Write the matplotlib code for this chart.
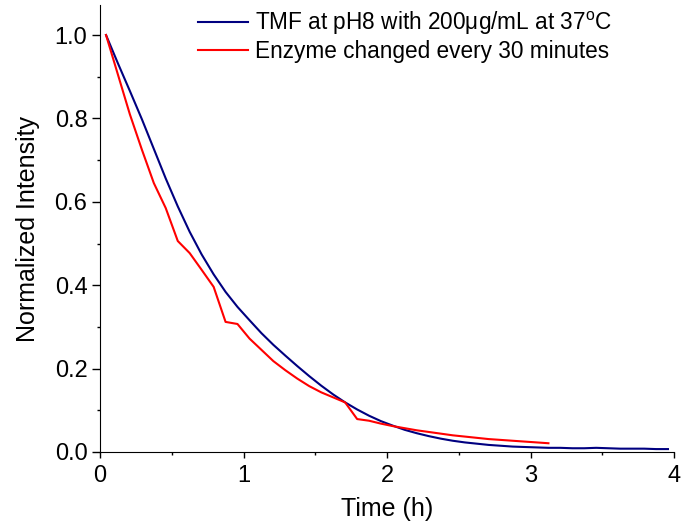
import matplotlib
matplotlib.use("Agg")
from matplotlib import pyplot as plt
from matplotlib.ticker import MultipleLocator, FormatStrFormatter

matplotlib.rcParams.update({'font.family': 'Liberation Sans',
                            'mathtext.fontset': 'custom',
                            'mathtext.rm': 'Liberation Sans',
                            'mathtext.it': 'Liberation Sans:italic',
                            'font.size': 17})

# time points (h), one every 5 minutes
time_red = [0.042, 0.125, 0.208, 0.292, 0.375, 0.458, 0.542, 0.625, 0.708, 0.792,
            0.875, 0.958, 1.042, 1.125, 1.208, 1.292, 1.375, 1.458, 1.542, 1.625,
            1.708, 1.792, 1.875, 1.958, 2.042, 2.125, 2.208, 2.292, 2.375, 2.458,
            2.542, 2.625, 2.708, 2.792, 2.875, 2.958, 3.042, 3.125]
enzyme_changed = [1.000, 0.905, 0.810, 0.725, 0.645, 0.585, 0.506, 0.477, 0.437, 0.396,
                  0.312, 0.307, 0.272, 0.245, 0.218, 0.196, 0.176, 0.158, 0.143, 0.131,
                  0.119, 0.079, 0.075, 0.068, 0.062, 0.057, 0.052, 0.048, 0.044, 0.040,
                  0.037, 0.034, 0.031, 0.029, 0.027, 0.025, 0.023, 0.021]

time_blue = [0.042, 0.125, 0.208, 0.292, 0.375, 0.458, 0.542, 0.625, 0.708, 0.792,
             0.875, 0.958, 1.042, 1.125, 1.208, 1.292, 1.375, 1.458, 1.542, 1.625,
             1.708, 1.792, 1.875, 1.958, 2.042, 2.125, 2.208, 2.292, 2.375, 2.458,
             2.542, 2.625, 2.708, 2.792, 2.875, 2.958, 3.042, 3.125, 3.208, 3.292,
             3.375, 3.458, 3.542, 3.625, 3.708, 3.792, 3.875, 3.958]
tmf_ph8 = [1.000, 0.932, 0.866, 0.798, 0.727, 0.656, 0.589, 0.528, 0.474, 0.426,
           0.384, 0.348, 0.316, 0.285, 0.257, 0.231, 0.206, 0.182, 0.159, 0.138,
           0.119, 0.102, 0.087, 0.074, 0.063, 0.053, 0.045, 0.038, 0.032, 0.027,
           0.023, 0.020, 0.017, 0.015, 0.013, 0.012, 0.011, 0.010, 0.010, 0.009,
           0.009, 0.010, 0.009, 0.008, 0.008, 0.008, 0.007, 0.007]

labels = ["TMF at pH8 with 200\u03bcg/mL at 37$^{\\mathrm{o}}$C",
          "Enzyme changed every 30 minutes"]

fig = plt.figure(figsize=(6.85, 5.31), dpi=100)
ax = fig.add_axes([100/685., 79/531., 574/685., 447/531.])

ax.plot(time_blue, tmf_ph8, color='#000080', linewidth=1.5, label=labels[0])
ax.plot(time_red, enzyme_changed, color='#ff0000', linewidth=1.5, label=labels[1])

ax.set_xlim(0, 4)
ax.set_ylim(0, 1.072)
ax.xaxis.set_major_locator(MultipleLocator(1))
ax.xaxis.set_minor_locator(MultipleLocator(0.5))
ax.yaxis.set_major_locator(MultipleLocator(0.2))
ax.yaxis.set_minor_locator(MultipleLocator(0.1))
ax.yaxis.set_major_formatter(FormatStrFormatter('%.1f'))
ax.tick_params(axis='x', which='major', direction='out', length=4, width=1, labelsize=17, pad=5)
ax.tick_params(axis='y', which='major', direction='out', length=6, width=1, labelsize=17, pad=3)
ax.tick_params(which='minor', direction='out', length=2.5, width=1)
ax.spines['top'].set_visible(False)
ax.spines['right'].set_visible(False)

ax.set_xlabel("Time (h)", fontsize=18)
ax.set_ylabel("Normalized Intensity", fontsize=18)
ax.xaxis.set_label_coords(0.5, -0.10)
ax.yaxis.set_label_coords(-0.104, 0.5)

ax.legend(loc='upper left', bbox_to_anchor=(0.171, 0.99), frameon=False,
          fontsize=16.3, borderpad=0, borderaxespad=0, handlelength=2.2,
          handletextpad=0.3, labelspacing=0.15)

plt.savefig("out.png", dpi=100)
